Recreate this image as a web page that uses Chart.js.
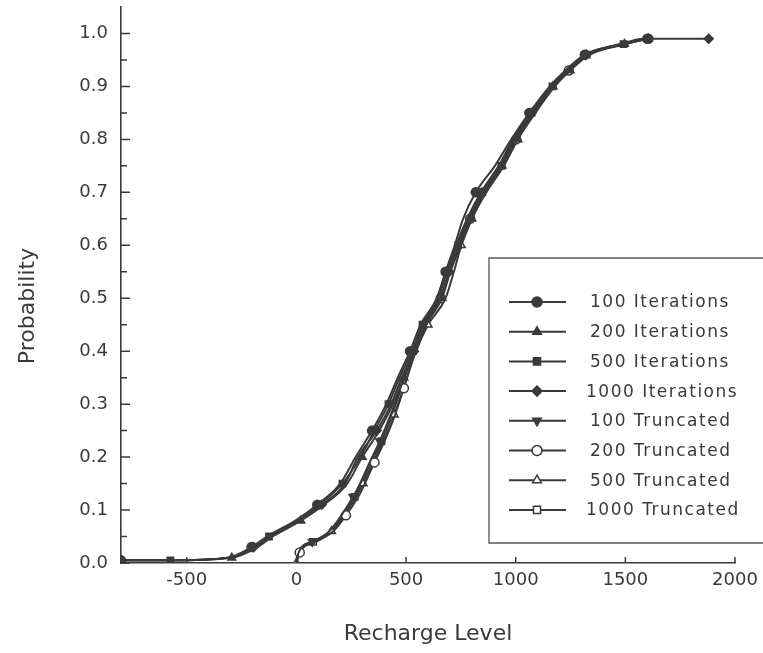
<!DOCTYPE html>
<html>
<head>
<meta charset="utf-8">
<script src="https://cdn.jsdelivr.net/npm/chart.js@4.4.1/dist/chart.umd.min.js"></script>
<style>
  html, body { margin: 0; padding: 0; background: #fff; }
  #c { display: block; }
</style>
</head>
<body>
<canvas id="c" width="763" height="653"></canvas>
<script>
// probability levels (y) for the two groups of curves
var U_P = [0.005, 0.005, 0.01, 0.03, 0.05, 0.08, 0.11, 0.15, 0.2, 0.25, 0.3, 0.35, 0.4, 0.45, 0.5, 0.55, 0.6, 0.65, 0.7, 0.75, 0.8, 0.85, 0.9, 0.93, 0.96, 0.98, 0.99, 0.99];
var T_P = [0, 0.02, 0.04, 0.06, 0.09, 0.125, 0.15, 0.19, 0.23, 0.28, 0.33, 0.4, 0.45, 0.5, 0.55, 0.6, 0.65, 0.7, 0.75, 0.8, 0.85, 0.9, 0.93, 0.96, 0.98, 0.99];

// recharge level (x) of each series at those levels
var it100  = [-800, -590, -315, -205, -135, -5, 95, 200, 270, 345, 410, 462, 518, 566, 640, 680, 722, 760, 818, 905, 980, 1062, 1155, 1226, 1315, 1478, 1585, 1600];
var it200  = [-800, -615, -295, -178, -108, 20, 125, 232, 300, 378, 440, 490, 546, 592, 664, 702, 750, 800, 866, 946, 1010, 1090, 1178, 1248, 1338, 1505, 1605, 1615];
var it500  = [-800, -575, -310, -185, -125, 12, 105, 210, 292, 355, 420, 470, 526, 575, 645, 686, 738, 790, 855, 935, 998, 1078, 1168, 1236, 1327, 1492, 1598, 1610];
var it1000 = [-800, -600, -300, -195, -115, 2, 115, 222, 280, 366, 432, 480, 536, 584, 655, 696, 742, 784, 846, 928, 992, 1072, 1162, 1232, 1322, 1486, 1600, 1880];
var tr100  = [0, 10, 72, 150, 205, 258, 290, 334, 380, 430, 474, 528, 578, 642, 683, 728, 778, 842, 922, 988, 1068, 1158, 1230, 1318, 1484, 1590];
var tr200  = [0, 15, 90, 168, 226, 282, 312, 356, 402, 450, 490, 542, 592, 658, 698, 742, 792, 858, 940, 1002, 1082, 1172, 1242, 1332, 1498, 1605];
var tr500  = [0, 12, 82, 160, 218, 272, 304, 350, 396, 446, 488, 545, 600, 680, 718, 752, 800, 860, 938, 1000, 1080, 1170, 1240, 1330, 1496, 1600];
var tr1000 = [0, 8, 76, 155, 212, 266, 296, 340, 388, 436, 478, 532, 582, 646, 686, 730, 782, 848, 928, 992, 1072, 1162, 1234, 1324, 1488, 1595];

var labels = ['100 Iterations', '200 Iterations', '500 Iterations', '1000 Iterations',
              '100 Truncated', '200 Truncated', '500 Truncated', '1000 Truncated'];
var X_TICKS = [-500, 0, 500, 1000, 1500, 2000];
var Y_TICKS = [0, 0.1, 0.2, 0.3, 0.4, 0.5, 0.6, 0.7, 0.8, 0.9, 1.0];

var INK = '#3a3a3a';
var FONT = "'DejaVu Sans', sans-serif";

function pts(xs, ps) {
    return xs.map(function (x, i) { return { x: x, y: ps[i] }; });
}

// marker styles per series: [pointStyle, rotation, filled]
var marks = [
    ['circle', 0, true], ['triangle', 0, true], ['rect', 0, true], ['rectRot', 0, true],
    ['triangle', 180, true], ['circle', 0, false], ['triangle', 0, false], ['rect', 0, false]
];
var series = [
    pts(it100, U_P), pts(it200, U_P), pts(it500, U_P), pts(it1000, U_P),
    pts(tr100, T_P), pts(tr200, T_P), pts(tr500, T_P), pts(tr1000, T_P)
];

var datasets = series.map(function (d, i) {
    var m = marks[i];
    return {
        label: labels[i],
        data: d,
        showLine: true,
        borderColor: INK,
        borderWidth: 2,
        cubicInterpolationMode: 'monotone',
        pointStyle: m[0],
        pointRotation: m[1],
        pointBackgroundColor: m[2] ? INK : '#fff',
        pointBorderColor: INK,
        pointBorderWidth: 1.5,
        // only every third point carries a marker, shifted per series
        pointRadius: function (ctx) {
            return (ctx.dataIndex + i) % 3 === 0 ? 4.5 : 0;
        },
        _mark: m
    };
});

// inward ticks, y title and the boxed legend
var decor = {
    id: 'decor',
    afterDraw: function (chart) {
        var ctx = chart.ctx;
        var xs = chart.scales.x, ys = chart.scales.y;
        var area = chart.chartArea;
        ctx.save();
        ctx.strokeStyle = INK;
        ctx.lineWidth = 1.5;
        ctx.beginPath();
        Y_TICKS.forEach(function (v, k) {
            var py = ys.getPixelForValue(v);
            ctx.moveTo(area.left, py); ctx.lineTo(area.left + 9, py);
            if (k < Y_TICKS.length - 1) {
                var pm = ys.getPixelForValue((v + Y_TICKS[k + 1]) / 2);
                ctx.moveTo(area.left, pm); ctx.lineTo(area.left + 6, pm);
            }
        });
        X_TICKS.forEach(function (v) {
            var px = xs.getPixelForValue(v);
            ctx.moveTo(px, area.bottom); ctx.lineTo(px, area.bottom - 6);
        });
        ctx.stroke();

        // y axis title
        ctx.fillStyle = INK;
        ctx.font = '22px ' + FONT;
        ctx.textAlign = 'center';
        ctx.textBaseline = 'middle';
        ctx.translate(28, 306);
        ctx.rotate(-Math.PI / 2);
        ctx.fillText('Probability', 0, 0);
        ctx.restore();

        // legend box
        ctx.save();
        var bx = 489, by = 258, bb = 543, bw = chart.width;
        ctx.fillStyle = '#fff';
        ctx.fillRect(bx, by, bw - bx, bb - by);
        ctx.strokeStyle = '#555';
        ctx.lineWidth = 1.3;
        ctx.beginPath();
        ctx.moveTo(bw, by); ctx.lineTo(bx, by); ctx.lineTo(bx, bb); ctx.lineTo(bw, bb);
        ctx.stroke();

        chart.data.datasets.forEach(function (ds, i) {
            var y = 302 + i * 29.7;
            ctx.strokeStyle = INK;
            ctx.lineWidth = 2;
            ctx.beginPath();
            ctx.moveTo(509, y); ctx.lineTo(566, y);
            ctx.stroke();
            var m = ds._mark;
            ctx.fillStyle = m[2] ? INK : '#fff';
            ctx.lineWidth = 1.5;
            Chart.helpers.drawPoint(ctx, {
                pointStyle: m[0], rotation: m[1], radius: 5, borderWidth: 1.5
            }, 537, y);
            ctx.fillStyle = INK;
            ctx.font = '17px ' + FONT;
            ctx.letterSpacing = '1.5px'; // 原圖字型較寬
            ctx.textAlign = 'left';
            ctx.textBaseline = 'middle';
            ctx.fillText(ds.label, i === 3 || i === 7 ? 586 : 590, y + 1);
            ctx.letterSpacing = '0px';
        });
        ctx.restore();
    }
};

new Chart(document.getElementById('c'), {
    type: 'scatter',
    data: { datasets: datasets },
    options: {
        responsive: false,
        animation: false,
        layout: { padding: { top: 7, right: 28, left: 0, bottom: 0 } },
        plugins: {
            legend: { display: false },
            tooltip: { enabled: false }
        },
        scales: {
            x: {
                type: 'linear',
                min: -800,
                max: 2000,
                afterBuildTicks: function (s) { s.ticks = X_TICKS.map(function (v) { return { value: v }; }); },
                afterFit: function (s) { s.height = 90; s.paddingLeft = 0; s.paddingRight = 0; },
                grid: { drawOnChartArea: false, drawTicks: false },
                border: { color: INK, width: 1.6 },
                ticks: {
                    color: INK, font: { family: FONT, size: 18 }, padding: 7, maxRotation: 0,
                    callback: function (v) { return String(v); }
                },
                title: {
                    display: true, text: 'Recharge Level', color: INK,
                    font: { family: FONT, size: 22, lineHeight: 1.2 },
                    padding: { top: 0, bottom: 6 }
                }
            },
            y: {
                type: 'linear',
                min: 0,
                max: 1.05,
                afterBuildTicks: function (s) { s.ticks = Y_TICKS.map(function (v) { return { value: v }; }); },
                afterFit: function (s) { s.width = 121; s.paddingTop = 0; s.paddingBottom = 0; },
                grid: { drawOnChartArea: false, drawTicks: false },
                border: { color: INK, width: 1.6 },
                ticks: {
                    color: INK, font: { family: FONT, size: 18 }, padding: 13,
                    callback: function (v) { return v.toFixed(1); }
                }
            }
        }
    },
    plugins: [decor]
});
</script>
</body>
</html>
